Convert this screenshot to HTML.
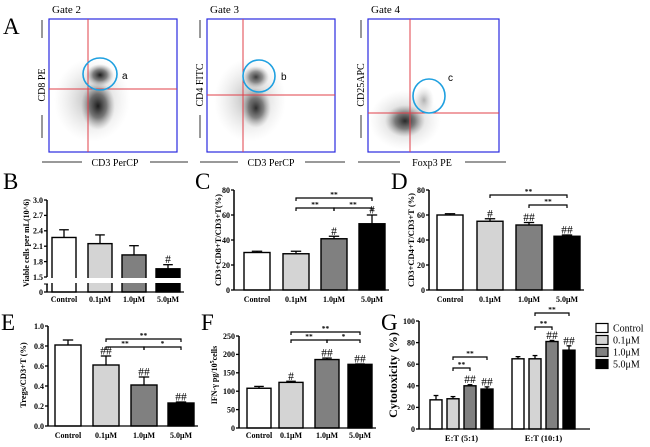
<!DOCTYPE html>
<html><head><meta charset="utf-8"><style>
html,body{margin:0;padding:0;background:#fff;}
svg{display:block;font-family:"Liberation Serif",serif;}
</style></head><body>
<svg id="fig" width="650" height="447" viewBox="0 0 650 447" xmlns="http://www.w3.org/2000/svg">
<defs>
<radialGradient id="dens" cx="50%" cy="50%" r="50%">
<stop offset="0" stop-color="#111" stop-opacity="0.95"/>
<stop offset="0.5" stop-color="#333" stop-opacity="0.6"/>
<stop offset="1" stop-color="#888" stop-opacity="0"/>
</radialGradient>
<radialGradient id="sparse" cx="50%" cy="50%" r="50%">
<stop offset="0" stop-color="#444" stop-opacity="0.4"/>
<stop offset="1" stop-color="#aaa" stop-opacity="0"/>
</radialGradient>
</defs>
<g id="panelA">
<text x="3" y="34" font-size="23">A</text>
<g>
<text x="52" y="13" font-size="11">Gate 2</text>
<ellipse cx="92" cy="100" rx="38" ry="42" fill="url(#sparse)"/>
<ellipse cx="98" cy="106" rx="17" ry="24" fill="url(#dens)"/>
<ellipse cx="100" cy="75" rx="14" ry="11" fill="url(#dens)"/>
<rect x="49" y="19" width="128" height="133" fill="none" stroke="#2a2ae0" stroke-width="1.2"/>
<line x1="88" y1="19" x2="88" y2="152" stroke="#e0404a" stroke-width="1"/>
<line x1="49" y1="89" x2="177" y2="89" stroke="#e0404a" stroke-width="1"/>
<ellipse cx="100" cy="74" rx="17" ry="16" fill="none" stroke="#1fa0e0" stroke-width="1.6"/>
<text x="122" y="79" font-size="10" font-family="Liberation Sans,sans-serif">a</text>
<line x1="42" y1="20" x2="42" y2="38" stroke="#333"/><line x1="42" y1="115" x2="42" y2="138" stroke="#333"/>
<text transform="translate(45,85) rotate(-90)" text-anchor="middle" font-size="10">CD8 PE</text>
<line x1="42" y1="162" x2="82" y2="162" stroke="#333"/><line x1="150" y1="162" x2="188" y2="162" stroke="#333"/>
<text x="115" y="166" text-anchor="middle" font-size="10">CD3 PerCP</text>
</g>
<g>
<text x="210" y="13" font-size="11">Gate 3</text>
<ellipse cx="250" cy="100" rx="36" ry="42" fill="url(#sparse)"/>
<ellipse cx="256" cy="108" rx="15" ry="20" fill="url(#dens)" opacity="0.9"/>
<ellipse cx="256" cy="77" rx="13" ry="11" fill="url(#dens)" opacity="0.85"/>
<rect x="207" y="19" width="128" height="133" fill="none" stroke="#2a2ae0" stroke-width="1.2"/>
<line x1="243" y1="19" x2="243" y2="152" stroke="#e0404a" stroke-width="1"/>
<line x1="207" y1="95" x2="335" y2="95" stroke="#e0404a" stroke-width="1"/>
<ellipse cx="259" cy="76" rx="16" ry="16" fill="none" stroke="#1fa0e0" stroke-width="1.6"/>
<text x="281" y="80" font-size="10" font-family="Liberation Sans,sans-serif">b</text>
<line x1="200" y1="20" x2="200" y2="38" stroke="#333"/><line x1="200" y1="115" x2="200" y2="138" stroke="#333"/>
<text transform="translate(203,85) rotate(-90)" text-anchor="middle" font-size="10">CD4 FITC</text>
<line x1="200" y1="162" x2="238" y2="162" stroke="#333"/><line x1="305" y1="162" x2="345" y2="162" stroke="#333"/>
<text x="271" y="166" text-anchor="middle" font-size="10">CD3 PerCP</text>
</g>
<g>
<text x="371" y="13" font-size="11">Gate 4</text>
<ellipse cx="405" cy="120" rx="36" ry="30" fill="url(#sparse)"/>
<ellipse cx="405" cy="121" rx="20" ry="16" fill="url(#dens)" opacity="0.9"/>
<ellipse cx="424" cy="100" rx="10" ry="14" fill="url(#sparse)"/>
<rect x="368" y="19" width="131" height="133" fill="none" stroke="#2a2ae0" stroke-width="1.2"/>
<line x1="410" y1="19" x2="410" y2="152" stroke="#e0404a" stroke-width="1"/>
<line x1="368" y1="113" x2="499" y2="113" stroke="#e0404a" stroke-width="1"/>
<ellipse cx="429" cy="96" rx="16" ry="17" fill="none" stroke="#1fa0e0" stroke-width="1.6"/>
<text x="448" y="81" font-size="10" font-family="Liberation Sans,sans-serif">c</text>
<line x1="361" y1="20" x2="361" y2="38" stroke="#333"/><line x1="361" y1="115" x2="361" y2="138" stroke="#333"/>
<text transform="translate(364,85) rotate(-90)" text-anchor="middle" font-size="10">CD25APC</text>
<line x1="358" y1="162" x2="400" y2="162" stroke="#333"/><line x1="465" y1="162" x2="506" y2="162" stroke="#333"/>
<text x="432" y="166" text-anchor="middle" font-size="10">Foxp3 PE</text>
</g>
</g>
<g id="charts"></g>
</svg>
<script>
// ---- data ----
const catLabels = ['Control','0.1\u03bcM','1.0\u03bcM','5.0\u03bcM'];
const bVals = [2.27,2.15,1.93,1.66];
const bErr  = [0.15,0.17,0.18,0.08];
const bAnn  = ['','','','#'];
const bTicks = [1.5,1.8,2.1,2.4,2.7,3.0];
const cVals = [30,29,41,53];
const cErr  = [1,2,2,7];
const cAnn  = ['','','#','#'];
const cTicks = [0,20,40,60,80];
const dVals = [60,55,52,43];
const dErr  = [1,2,2,1];
const dAnn  = ['','#','##','##'];
const dTicks = [0,20,40,60,80];
const eVals = [0.81,0.61,0.41,0.23];
const eErr  = [0.05,0.09,0.08,0.01];
const eAnn  = ['','##','##','##'];
const eTicks = [0,0.2,0.4,0.6,0.8,1.0];
const fVals = [108,124,186,173];
const fErr  = [5,3,4,1];
const fAnn  = ['','#','##','##'];
const fTicks = [0,50,100,150,200,250];
const gGroups = ['E:T (5:1)','E:T (10:1)'];
const g51Vals = [27,28,40,37];
const g51Err  = [4,2,1,2];
const g101Vals = [65,65,81,73];
const g101Err  = [2,3,1,4];
const gAnn = ['','','##','##'];
const gTicks = [0,20,40,60,80,100];
const legendLabels = ['Control','0.1\u03bcM','1.0\u03bcM','5.0\u03bcM'];

const fills = ['#ffffff','#d4d4d4','#808080','#000000'];
const NS = 'http://www.w3.org/2000/svg';
const root = document.getElementById('charts');
function mk(tag, attrs, parent, txt){
  const e = document.createElementNS(NS, tag);
  for (const k in attrs) e.setAttribute(k, attrs[k]);
  if (txt !== undefined) e.textContent = txt;
  (parent||root).appendChild(e);
  return e;
}
function makeScale(min,max,y0,yTop){ return v => y0 - (v-min)/(max-min)*(y0-yTop); }

function drawAxis(g, ax, y0, yTop, ticks, yS, fmt){
  const axl = mk('line',{x1:ax,y1:yTop,x2:ax,y2:y0,stroke:'#000','stroke-width':1.5},g);
  
  
  ticks.forEach(t=>{
    const y = yS(t);
    mk('line',{x1:ax-3,y1:y,x2:ax,y2:y,stroke:'#000','stroke-width':1.3},g);
    const tl = mk('text',{x:ax-4,y:y+2.8,'text-anchor':'end','font-size':8,'font-weight':'bold'},g,fmt(t));
    
    
  });
}
function drawBars(g, vals, errs, anns, lefts, w, yS, y0, name){
  vals.forEach((v,i)=>{
    const top = yS(v);
    const r = mk('rect',{x:lefts[i],y:top,width:w,height:y0-top,fill:fills[i],stroke:'#000','stroke-width':1.4},g);
    
    
    const cx = lefts[i]+w/2, et = yS(v+errs[i]);
    mk('line',{x1:cx,y1:top,x2:cx,y2:et,stroke:'#000','stroke-width':1.3},g);
    mk('line',{x1:cx-w*0.2,y1:et,x2:cx+w*0.2,y2:et,stroke:'#000','stroke-width':1.3},g);
    if (anns[i]) {
      const a = mk('text',{x:cx,y:et-1.5,'text-anchor':'middle','font-size':11.5},g,anns[i]);
      
      
    }
  });
}
function drawBracket(g, x1, x2, y, label){
  const p = mk('path',{d:`M${x1},${y+3}V${y}H${x2}V${y+3}`,fill:'none',stroke:'#000','stroke-width':1.2},g);
  
  
  mk('text',{x:(x1+x2)/2,y:y-1,'text-anchor':'middle','font-size':7.5,'font-weight':'bold'},g,label);
}
function drawXLabels(g, lefts, w, y){
  catLabels.forEach((c,i)=>{
    const t = mk('text',{x:lefts[i]+w/2,y:y,'text-anchor':'middle','font-size':8,'font-weight':'bold'},g,c);
    
    
  });
}
function yTitle(g, x, y, txt, size, bold){
  const t = mk('text',{transform:`translate(${x},${y}) rotate(-90)`,'text-anchor':'middle','font-size':size,'font-weight':bold?'bold':'normal'},g,txt);
  
  
  return t;
}
function letter(g,x,y,l){
  const t = mk('text',{x:x,y:y,'font-size':23},g,l);
  
  
}
function panel(o){
  const g = mk('g',{});
  
  
  const yS = makeScale(o.min,o.max,o.y0,o.yTop);
  letter(g,o.lx,o.ly,o.letter);
  drawAxis(g,o.ax,o.y0,o.yTop,o.ticks,yS,o.fmt);
  drawBars(g,o.vals,o.errs,o.anns,o.lefts,o.w,yS,o.y0,o.name);
  mk('line',{x1:o.ax,y1:o.y0,x2:o.lefts[3]+o.w+4,y2:o.y0,stroke:'#000','stroke-width':1.3},g);
  o.brackets.forEach(b=>drawBracket(g,o.lefts[b[0]]+o.w/2,o.lefts[b[1]]+o.w/2,b[2],b[3]));
  drawXLabels(g,o.lefts,o.w,o.xly);
  return g;
}

// ---- Panel B (broken axis) ----
(function(){
  const g = mk('g',{});
  
  
  letter(g,3,189,'B');
  const ax=47, y0=292, lefts=[52,88,122,156], w=24;
  const yS = makeScale(1.5,3.0,277,200);
  const yB = v => v>=1.5 ? yS(v) : y0;
  drawAxis(g,ax,277,200,bTicks,yS,t=>t.toFixed(1));
  mk('line',{x1:ax,y1:284,x2:ax,y2:y0,stroke:'#000','stroke-width':1.5},g);
  mk('line',{x1:ax-3,y1:284,x2:ax+1,y2:284,stroke:'#000','stroke-width':1},g);
  mk('line',{x1:ax-3,y1:y0,x2:ax,y2:y0,stroke:'#000','stroke-width':1.3},g);
  mk('text',{x:ax-4,y:y0+2.8,'text-anchor':'end','font-size':8,'font-weight':'bold'},g,'0');
  drawBars(g,bVals,bErr,bAnn,lefts,w,yB,y0,'panel-b');
  mk('rect',{x:ax+1,y:278,width:140,height:5,fill:'#fff'},g);
  mk('line',{x1:ax,y1:y0,x2:184,y2:y0,stroke:'#000','stroke-width':1.3},g);
  drawXLabels(g,lefts,w,302);
  yTitle(g,29,243,'Viable cells per mL(10^6)',8,true);
})();

panel({name:'panel-c-cd8',letter:'C',lx:195,ly:189,ax:234,y0:290,yTop:190,min:0,max:80,ticks:cTicks,fmt:t=>String(t),
  vals:cVals,errs:cErr,anns:cAnn,lefts:[244,283,321,359],w:26,xly:302,
  brackets:[[1,3,198,'**'],[1,2,208,'**'],[2,3,208,'**']]});
yTitle(root.lastChild,221,240,'CD3+CD8+T/CD3+T(%)',8.5,true);

panel({name:'panel-d-cd4',letter:'D',lx:391,ly:189,ax:429,y0:290,yTop:190,min:0,max:80,ticks:dTicks,fmt:t=>String(t),
  vals:dVals,errs:dErr,anns:dAnn,lefts:[437,477,516,554],w:26,xly:302,
  brackets:[[1,3,195,'**'],[2,3,205,'**']]});
yTitle(root.lastChild,414,240,'CD3+CD4+T/CD3+T (%)',8.5,true);

panel({name:'panel-e-tregs',letter:'E',lx:1,ly:330,ax:48,y0:426,yTop:326,min:0,max:1.0,ticks:eTicks,fmt:t=>t.toFixed(1),
  vals:eVals,errs:eErr,anns:eAnn,lefts:[55,93,131,168],w:26,xly:438,
  brackets:[[1,3,339,'**'],[1,2,347,'**'],[2,3,347,'*']]});
yTitle(root.lastChild,26,375,'Tregs/CD3+T (%)',8.5,true);

panel({name:'panel-f-ifn-gamma',letter:'F',lx:201,ly:330,ax:239,y0:428,yTop:336,min:0,max:250,ticks:fTicks,fmt:t=>String(t),
  vals:fVals,errs:fErr,anns:fAnn,lefts:[247,279,315,348],w:24,xly:438,
  brackets:[[1,3,332,'**'],[1,2,340,'**'],[2,3,340,'*']]});
(function(){
  const t = yTitle(root.lastChild,217,375,'',8,true);
  t.textContent='IFN-\u03b3 pg/10';
  mk('tspan',{dy:-3,'font-size':6},t,'5');
  mk('tspan',{dy:3},t,'cells');
})();

// ---- Panel G ----
(function(){
  const g = mk('g',{});
  
  
  letter(g,381,330,'G');
  const ax=419, y0=429, yTop=321;
  const yS = makeScale(0,100,y0,yTop);
  drawAxis(g,ax,y0,yTop,gTicks,yS,t=>String(t));
  const l1=[430,447,464,481], l2=[512,529,546,563], w=12;
  drawBars(g,g51Vals,g51Err,gAnn,l1,w,yS,y0,'g-5to1');
  drawBars(g,g101Vals,g101Err,gAnn,l2,w,yS,y0,'g-10to1');
  mk('line',{x1:ax,y1:y0,x2:590,y2:y0,stroke:'#000','stroke-width':1.3},g);
  drawBracket(g,l1[1]+w/2,l1[3]+w/2,357,'**');
  drawBracket(g,l1[1]+w/2,l1[2]+w/2,368,'**');
  drawBracket(g,l2[1]+w/2,l2[3]+w/2,313,'**');
  drawBracket(g,l2[1]+w/2,l2[2]+w/2,327,'**');
  [[l1,gGroups[0]],[l2,gGroups[1]]].forEach(p=>{
    const t = mk('text',{x:(p[0][0]+p[0][3]+w)/2,y:441,'text-anchor':'middle','font-size':8.5,'font-weight':'bold'},g,p[1]);
    
    
  });
  yTitle(g,397,375,'Cytotoxicity (%)',12,true);
  const lg = mk('g',{},g);
  
  
  legendLabels.forEach((lab,i)=>{
    const cy = 328 + i*12;
    const e = mk('g',{},lg);
    
    
    mk('rect',{x:596,y:cy-4.5,width:12,height:9,fill:fills[i],stroke:'#000','stroke-width':1.2},e);
    mk('text',{x:613,y:cy+3.5,'font-size':10},e,lab);
  });
})();
</script>
</body></html>
